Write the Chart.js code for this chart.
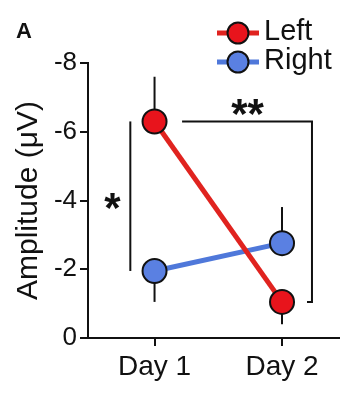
<!DOCTYPE html>
<html>
<head>
<meta charset="utf-8">
<script src="https://cdn.jsdelivr.net/npm/chart.js@4.4.1/dist/chart.umd.min.js"></script>
<style>
  html, body { margin: 0; padding: 0; background: #ffffff; }
  canvas { display: block; }
</style>
</head>
<body>
<canvas id="c" width="356" height="403"></canvas>
<script>
// ---- data ----
const categories = ['Day 1', 'Day 2'];
const seriesNames = ['Left', 'Right'];
const leftValues = [-6.3, -1.05];
const rightValues = [-1.95, -2.76];
const leftErrors = [1.3, 0.65];
const rightErrors = [0.9, 1.05];
// sign of the one-sided error bar: -1 = towards more negative, +1 = towards zero
const leftErrorSign = [-1, 1];
const rightErrorSign = [1, -1];
const yTickValues = [-8, -6, -4, -2, 0];
const yTickLabels = ['-8', '-6', '-4', '-2', '0'];
const yAxisTitle = 'Amplitude (\u03BCV)';
const panelLabel = 'A';
// significance annotations (data units)
const sigSingleLabel = '*';
const sigSingleLine = [[0.81, -6.3], [0.81, -1.95]];
const sigSingleText = [0.67, -4.0];
const sigDoubleLabel = '**';
const sigDoubleLine = [[1.216, -6.3], [2.235, -6.3], [2.235, -1.05], [2.196, -1.05]];
const sigDoubleText = [1.73, -6.73];

// ---- styles ----
const FONT = "'Liberation Sans', Arial, Helvetica, sans-serif";
const redFill = '#e8141c';
const redLine = '#e0231f';
const blueFill = '#5a80e2';
const blueLine = '#4f78da';

const toPoints = (vals) => vals.map((v, i) => ({ x: i + 1, y: v }));

const errorBarPlugin = {
  id: 'errorBars',
  beforeDatasetsDraw(chart) {
    const { ctx, scales: { x, y } } = chart;
    const sets = [[leftValues, leftErrors, leftErrorSign], [rightValues, rightErrors, rightErrorSign]];
    ctx.save();
    ctx.strokeStyle = '#111';
    ctx.lineWidth = 2;
    sets.forEach(([vals, errs, signs]) => {
      vals.forEach((v, i) => {
        const px = x.getPixelForValue(i + 1);
        ctx.beginPath();
        ctx.moveTo(px, y.getPixelForValue(v));
        ctx.lineTo(px, y.getPixelForValue(v + signs[i] * errs[i]));
        ctx.stroke();
      });
    });
    ctx.restore();
  }
};

function drawCenteredGlyph(ctx, text, cx, cy) {
  const m = ctx.measureText(text);
  const asc = m.actualBoundingBoxAscent, desc = m.actualBoundingBoxDescent;
  ctx.fillText(text, cx, cy + (asc - desc) / 2);
}

const annotationPlugin = {
  id: 'annotations',
  afterDraw(chart) {
    const { ctx, scales: { x, y } } = chart;
    ctx.save();
    // brackets
    ctx.strokeStyle = '#111';
    ctx.lineWidth = 2;
    ctx.lineJoin = 'miter';
    [sigSingleLine, sigDoubleLine].forEach(pts => {
      ctx.beginPath();
      pts.forEach(([vx, vy], i) => {
        const px = x.getPixelForValue(vx), py = y.getPixelForValue(vy);
        if (i === 0) ctx.moveTo(px, py); else ctx.lineTo(px, py);
      });
      ctx.stroke();
    });
    // asterisks
    ctx.fillStyle = '#111';
    ctx.textAlign = 'center';
    ctx.textBaseline = 'alphabetic';
    ctx.font = 'bold 42px ' + FONT;
    drawCenteredGlyph(ctx, sigSingleLabel, x.getPixelForValue(sigSingleText[0]), y.getPixelForValue(sigSingleText[1]));
    drawCenteredGlyph(ctx, sigDoubleLabel, x.getPixelForValue(sigDoubleText[0]), y.getPixelForValue(sigDoubleText[1]));

    // panel label
    ctx.textAlign = 'left';
    ctx.font = 'bold 22px ' + FONT;
    ctx.fillText(panelLabel, 16, 38);

    // legend
    const legendItems = [
      { name: seriesNames[0], line: redLine, fill: redFill, cy: 33, base: 40 },
      { name: seriesNames[1], line: blueLine, fill: blueFill, cy: 62, base: 69 }
    ];
    legendItems.forEach(it => {
      ctx.strokeStyle = it.line;
      ctx.lineWidth = 5;
      ctx.beginPath();
      ctx.moveTo(217, it.cy);
      ctx.lineTo(259, it.cy);
      ctx.stroke();
      ctx.beginPath();
      ctx.arc(238, it.cy, 10.5, 0, Math.PI * 2);
      ctx.fillStyle = it.fill;
      ctx.fill();
      ctx.strokeStyle = '#111';
      ctx.lineWidth = 2;
      ctx.stroke();
      ctx.fillStyle = '#111';
      ctx.font = '29px ' + FONT;
      ctx.fillText(it.name, 264, it.base);
    });
    ctx.restore();
  }
};

const ctx = document.getElementById('c').getContext('2d');
new Chart(ctx, {
  type: 'line',
  data: {
    datasets: [
      {
        label: seriesNames[0],
        data: toPoints(leftValues),
        borderColor: redLine,
        borderWidth: 5,
        pointRadius: 12,
        pointBorderWidth: 2,
        pointBorderColor: '#111',
        pointBackgroundColor: redFill,
        showLine: true,
        clip: false
      },
      {
        label: seriesNames[1],
        data: toPoints(rightValues),
        borderColor: blueLine,
        borderWidth: 5,
        pointRadius: 12,
        pointBorderWidth: 2,
        pointBorderColor: '#111',
        pointBackgroundColor: blueFill,
        showLine: true,
        clip: false
      }
    ]
  },
  options: {
    responsive: false,
    animation: false,
    devicePixelRatio: 1,
    layout: { padding: { top: 63, right: 17, left: 0, bottom: 0 } },
    plugins: { legend: { display: false }, tooltip: { enabled: false } },
    scales: {
      x: {
        type: 'linear',
        min: 0.478,
        max: 2.447,
        afterBuildTicks: (scale) => { scale.ticks = categories.map((c, i) => ({ value: i + 1 })); },
        afterFit: (scale) => { scale.height = 65; },
        border: { display: true, color: '#111', width: 2 },
        grid: { display: true, drawOnChartArea: false, drawTicks: true, tickLength: 8, color: '#111', lineWidth: 2 },
        ticks: {
          autoSkip: false,
          maxRotation: 0,
          padding: 4,
          color: '#111',
          font: { family: FONT, size: 28 },
          callback: (v, i) => categories[i]
        }
      },
      y: {
        type: 'linear',
        reverse: true,
        min: -8,
        max: 0,
        afterBuildTicks: (scale) => { scale.ticks = yTickValues.map(v => ({ value: v })); },
        afterFit: (scale) => { scale.width = 88; },
        border: { display: true, color: '#111', width: 2 },
        grid: { display: true, drawOnChartArea: false, drawTicks: true, tickLength: 8, color: '#111', lineWidth: 2 },
        title: {
          display: true,
          text: yAxisTitle,
          color: '#111',
          font: { family: FONT, size: 30 },
          padding: { top: 11, bottom: 0 }
        },
        ticks: {
          autoSkip: false,
          padding: 3,
          color: '#111',
          font: { family: FONT, size: 26 },
          callback: (v) => yTickLabels[yTickValues.indexOf(v)]
        }
      }
    }
  },
  plugins: [errorBarPlugin, annotationPlugin]
});
</script>
</body>
</html>
